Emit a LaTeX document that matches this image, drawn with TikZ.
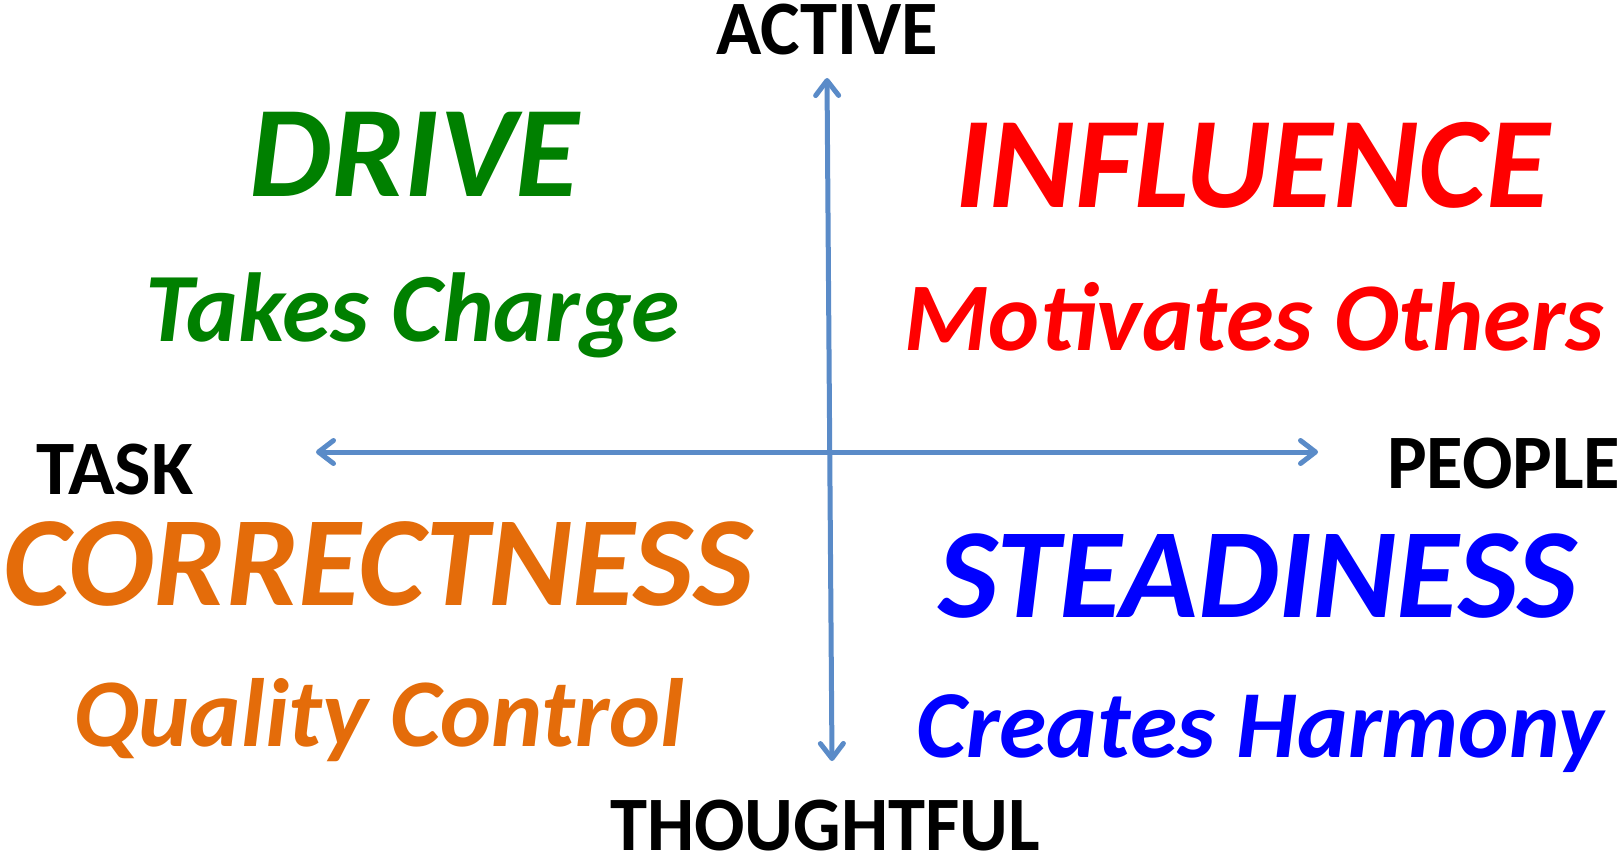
\documentclass[tikz,border=0pt]{standalone}
\usepackage{fontspec}
\setmainfont{Carlito}
\usetikzlibrary{arrows.meta}
\definecolor{axisblue}{HTML}{5A8BC8}
\definecolor{dgreen}{HTML}{008000}
\definecolor{dred}{HTML}{FF0000}
\definecolor{dorange}{HTML}{E46C0A}
\definecolor{dblue}{HTML}{0000FF}
\begin{document}
\begin{tikzpicture}[x=1pt,y=-1pt,
  barb/.tip={Straight Barb[length=15pt,width=23pt,line cap=round,line join=round]},
  axisarrow/.style={draw=axisblue, line width=5pt, barb-barb},
  axislabel/.style={inner sep=0pt, font=\fontsize{77}{77}\selectfont\bfseries, text=black},
  bigq/.style={inner sep=0pt, font=\fontsize{128}{128}\selectfont\bfseries\itshape},
  smallq/.style={inner sep=0pt, font=\fontsize{97}{97}\selectfont\bfseries\itshape}]
\useasboundingbox (0,0) rectangle (1621,854);
\fill[white] (0,0) rectangle (1621,854);
\coordinate (top) at (827,78);
\coordinate (bot) at (832,761);
\coordinate (lft) at (316,452);
\coordinate (rgt) at (1318,452);
\draw[axisarrow] (lft) -- (rgt);
\draw[axisarrow] (top) -- (bot);
\node[axislabel, anchor=base, xscale=0.97, transform shape] (active) at (827,54) {ACTIVE};
\node[axislabel, anchor=base west] (task) at (36,494) {TASK};
\node[axislabel, anchor=base west, xscale=0.97, transform shape] (people) at (1387,488) {PEOPLE};
\node[axislabel, anchor=base west, xscale=0.97, transform shape] (thoughtful) at (610,850) {THOUGHTFUL};
\node[bigq, text=dgreen, anchor=base west, font=\fontsize{130}{130}\selectfont\bfseries\itshape] (drive) at (249,196) {DRIVE};
\node[smallq, text=dgreen, anchor=base west, font=\fontsize{98}{98}\selectfont\bfseries\itshape] (takes) at (145,341) {Takes Charge};
\node[bigq, text=dred, anchor=base west, font=\fontsize{130}{130}\selectfont\bfseries\itshape] (influence) at (955,207) {INFLUENCE};
\node[smallq, text=dred, anchor=base west] (motiv) at (904,350) {Motivates Others};
\node[bigq, text=dorange, anchor=base west] (correct) at (3,605) {CORRECTNESS};
\node[smallq, text=dorange, anchor=base west] (quality) at (73,746) {Quality Control};
\node[bigq, text=dblue, anchor=base west] (steady) at (938,617) {STEADINESS};
\node[smallq, text=dblue, anchor=base west, font=\fontsize{96}{96}\selectfont\bfseries\itshape] (creates) at (916,757) {Creates Harmony};
\end{tikzpicture}
\end{document}
